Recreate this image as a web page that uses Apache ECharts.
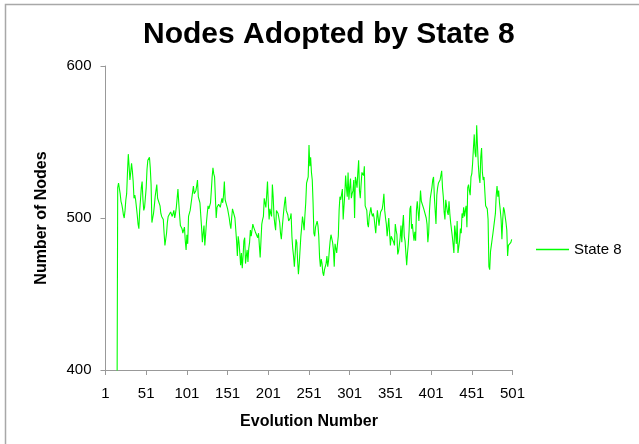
<!DOCTYPE html>
<html>
<head>
<meta charset="utf-8">
<script src="https://cdn.jsdelivr.net/npm/echarts@6/dist/echarts.min.js"></script>
<style>
  html, body { margin: 0; padding: 0; background: #fff; }
  #chart { width: 639px; height: 444px; }
</style>
</head>
<body>
<div id="chart"></div>
<script>
// 축 눈금
const yTicks = [400, 500, 600];
const evolutions = Array.from({ length: 501 }, (_, i) => String(i + 1));

// State 8 노드 수 (그림에서 읽은 값, 처음 15개는 축 아래)
const state8 = [
  0, 0, 0, 0, 0, 0, 0, 0, 0, 0,
  0, 0, 0, 0, 0, 520, 523, 522, 516, 511,
  509, 506, 502, 500, 505, 512, 516, 530, 542, 534,
  525, 530, 536, 531, 524, 513, 515, 512, 512, 502,
  496, 493, 505, 512, 520, 524, 512, 505, 507, 508,
  520, 532, 538, 537, 540, 533, 522, 497, 500, 503,
  508, 514, 518, 522, 513, 514, 514, 508, 503, 501,
  500, 499, 490, 482, 486, 490, 497, 501, 500, 500,
  504, 504, 501, 503, 505, 500, 503, 507, 513, 519,
  510, 502, 495, 494, 493, 490, 492, 494, 485, 479,
  489, 483, 501, 503, 505, 509, 513, 517, 521, 516,
  517, 518, 521, 525, 514, 512, 510, 502, 494, 484,
  490, 495, 482, 489, 497, 503, 508, 506, 508, 510,
  518, 527, 533, 529, 527, 526, 500, 507, 508, 509,
  508, 507, 510, 513, 510, 515, 524, 512, 510, 508,
  506, 505, 500, 496, 493, 500, 506, 504, 503, 500,
  499, 485, 475, 488, 484, 477, 469, 477, 467, 475,
  485, 487, 470, 475, 479, 471, 480, 484, 492, 488,
  492, 496, 494, 493, 491, 491, 492, 487, 490, 482,
  474, 485, 496, 499, 501, 513, 510, 507, 515, 524,
  510, 499, 506, 503, 501, 522, 514, 501, 496, 492,
  505, 504, 503, 500, 497, 490, 486, 493, 499, 505,
  510, 514, 505, 506, 502, 498, 497, 500, 503, 488,
  480, 475, 468, 476, 486, 484, 472, 463, 470, 479,
  488, 494, 501, 497, 492, 502, 510, 523, 525, 527,
  548, 534, 540, 530, 525, 510, 490, 488, 494, 496,
  498, 495, 488, 474, 468, 473, 470, 464, 462, 466,
  465, 470, 475, 468, 472, 479, 485, 489, 488, 484,
  479, 468, 483, 480, 477, 483, 488, 505, 514, 512,
  512, 519, 499, 508, 516, 528, 520, 514, 530, 512,
  520, 526, 513, 516, 518, 525, 500, 527, 524, 520,
  530, 538, 518, 513, 522, 530, 529, 528, 534, 508,
  507, 505, 496, 494, 501, 504, 507, 503, 501, 503,
  500, 499, 490, 498, 505, 500, 495, 500, 504, 503,
  506, 510, 516, 505, 500, 496, 488, 494, 500, 490,
  482, 488, 489, 487, 484, 482, 496, 492, 489, 476,
  478, 479, 487, 495, 484, 495, 502, 488, 485, 484,
  469, 477, 483, 492, 506, 508, 493, 496, 490, 485,
  491, 485, 505, 511, 512, 498, 508, 518, 511, 512,
  512, 506, 507, 507, 500, 496, 484, 490, 505, 513,
  514, 520, 525, 527, 514, 505, 496, 515, 520, 523,
  524, 525, 526, 531, 520, 514, 504, 499, 512, 511,
  504, 502, 511, 503, 497, 496, 488, 483, 477, 495,
  490, 483, 498, 477, 476, 485, 493, 490, 503, 500,
  507, 501, 505, 508, 494, 520, 522, 518, 515, 527,
  529, 536, 546, 555, 543, 540, 561, 547, 535, 527,
  523, 540, 546, 530, 525, 527, 528, 508, 507, 506,
  499, 468, 466, 478, 482, 486, 490, 489, 491, 503,
  515, 521, 514, 518, 510, 505, 499, 486, 499, 507,
  505, 505, 497, 492, 475, 482, 482, 483, 484, 486
];

const chart = echarts.init(document.getElementById('chart'));
const font = '"Liberation Sans", Arial, sans-serif';

chart.setOption({
  animation: false,
  textStyle: { fontFamily: font },
  graphic: [{
    type: 'rect',
    shape: { x: 5.5, y: 4.5, width: 700, height: 500 },
    style: { fill: 'none', stroke: '#a8a8a8', lineWidth: 1.5 }
  }],
  title: {
    text: 'Nodes Adopted by State 8',
    left: 138,
    top: 15,
    textStyle: { fontSize: 30, fontWeight: 'bold', color: '#000', fontFamily: font }
  },
  legend: {
    data: ['State 8'],
    left: 531,
    top: 237,
    icon: 'rect',
    itemWidth: 33,
    itemHeight: 1.5,
    textStyle: { fontSize: 15, color: '#000', fontFamily: font }
  },
  grid: { left: 105.5, right: 126.5, top: 66, bottom: 74 },
  xAxis: {
    type: 'category',
    data: evolutions,
    boundaryGap: false,
    name: 'Evolution Number',
    nameLocation: 'middle',
    nameGap: 44,
    nameTextStyle: { fontSize: 16, fontWeight: 'bold', color: '#000' },
    axisLine: { lineStyle: { color: '#999' } },
    axisTick: { show: true, length: 5, interval: (i) => i % 50 === 0, lineStyle: { color: '#999' } },
    axisLabel: {
      interval: (i) => i % 50 === 0,
      fontSize: 15, color: '#000', margin: 16
    },
    splitLine: { show: false }
  },
  yAxis: {
    type: 'value',
    min: yTicks[0],
    max: yTicks[yTicks.length - 1],
    interval: 100,
    name: 'Number of Nodes',
    nameLocation: 'middle',
    nameGap: 56,
    nameTextStyle: { fontSize: 16, fontWeight: 'bold', color: '#000' },
    axisLine: { show: true, lineStyle: { color: '#999' } },
    axisTick: { show: true, length: 5, lineStyle: { color: '#999' } },
    axisLabel: { fontSize: 15, color: '#000', margin: 14 },
    splitLine: { show: false }
  },
  series: [{
    name: 'State 8',
    type: 'line',
    data: state8,
    showSymbol: false,
    clip: true,
    itemStyle: { color: '#00ff00' },
    lineStyle: { color: '#00ff00', width: 1.1 }
  }]
});
</script>
</body>
</html>
